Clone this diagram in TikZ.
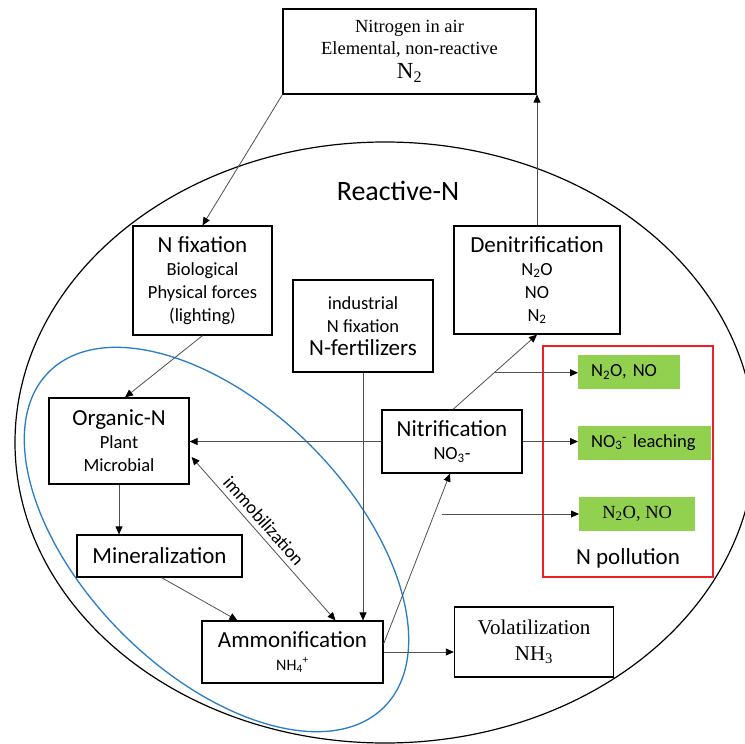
\documentclass[tikz,border=0pt]{standalone}
\usepackage{fontspec}
\setmainfont{Carlito}
\newfontfamily\tnr{Liberation Serif}
\usetikzlibrary{arrows.meta,calc}
\definecolor{gfill}{RGB}{146,208,80}
\definecolor{blueell}{RGB}{40,125,200}
\definecolor{redbox}{RGB}{236,32,38}
\definecolor{lngray}{RGB}{80,80,80}
\newcommand\hsz{\fontsize{23}{27}\selectfont}
\newcommand\ssz{\fontsize{18.5}{23}\selectfont}
\begin{document}
\begin{tikzpicture}[x=1pt,y=-1pt,
  box/.style={draw=black, line width=1.2pt, fill=white, rectangle, inner sep=0pt, align=center, font=\ssz},
  greenbox/.style={fill=gfill, rectangle, inner ysep=0pt, minimum height=34pt, font=\ssz},
  tip/.style={Triangle[length=8pt,width=7pt,color=black]},
  conn/.style={draw=lngray, line width=0.8pt, -{Triangle[length=8pt,width=7pt,color=black]}},
  dconn/.style={draw=lngray, line width=0.8pt, {Triangle[length=8pt,width=7pt,color=black]}-{Triangle[length=8pt,width=7pt,color=black]}}]
\useasboundingbox (0,0) rectangle (745,744);
\clip (0,0) rectangle (745,744);
\fill[white] (0,0) rectangle (745,744);
% big ellipse and blue ellipse
\draw[line width=1.2pt] (385,442.5) ellipse [x radius=370pt, y radius=300.5pt];
\draw[blueell, line width=1.3pt, rotate around={-45:(216.5,539.5)}] (216.5,539.5) ellipse [x radius=237pt, y radius=133pt];
% red box
\node[draw=redbox, line width=1.2pt, rectangle, minimum width=170pt, minimum height=231pt, inner sep=0pt] (red) at (628,461.5) {};
\node[font=\hsz, anchor=base] (npol) at (628,564) {N pollution};
% title
\node[font=\fontsize{28}{32}\selectfont, anchor=base] (react) at (398,200) {Reactive-N};
% boxes
\node[box, minimum width=253pt, minimum height=85pt, font=\tnr\fontsize{18.5}{22}\selectfont] (top) at (409.5,51.5)
  {Nitrogen in air\\Elemental, non-reactive\\[2pt]{\fontsize{23}{23}\selectfont N\textsubscript{2}}};
\node[box, minimum width=139pt, minimum height=109pt] (nfix) at (202.5,280.5)
  {{\hsz N fixation}\\Biological\\Physical forces\\(lighting)};
\node[box, minimum width=140pt, minimum height=92pt] (indus) at (363,326)
  {industrial\\N fixation\\{\hsz N-fertilizers}};
\node[box, minimum width=166pt, minimum height=108pt] (denit) at (537,280)
  {{\hsz Denitrification}\\N\textsubscript{2}O\\NO\\N\textsubscript{2}};
\node[box, minimum width=140pt, minimum height=86pt] (orgN) at (119,441)
  {{\hsz Organic-N}\\Plant\\Microbial};
\node[box, minimum width=140pt, minimum height=63pt] (nitr) at (452,441.5)
  {{\hsz Nitrification}\\NO\textsubscript{3}-};
\node[box, minimum width=165pt, minimum height=42pt] (miner) at (159.5,556)
  {{\hsz Mineralization}};
\node[box, minimum width=181pt, minimum height=62pt] (ammon) at (292.5,652)
  {{\hsz Ammonification}\\{\fontsize{16}{20}\selectfont NH\textsubscript{4}\textsuperscript{+}}};
\node[box, minimum width=159pt, minimum height=70pt, font=\tnr\fontsize{21}{26}\selectfont] (volat) at (534,642)
  {Volatilization\\NH\textsubscript{3}};
% green boxes
\node[greenbox, anchor=west, text width=76pt, inner xsep=13pt, align=left] (g1) at (578,372) {N\textsubscript{2}O, NO};
\node[greenbox, anchor=west, text width=107pt, inner xsep=13pt, align=left] (g2) at (578,442.5) {NO\textsubscript{3}\textsuperscript{-} leaching};
\node[greenbox, anchor=west, minimum width=116pt] (g3) at (579,513.5) {\tnr\fontsize{18.5}{22}\selectfont N\textsubscript{2}O, NO};
% connectors
\draw[conn] (top.south west) -- (nfix.north);
\draw[conn] (denit.north) -- (denit.north |- top.south);
\draw[conn] (nfix.south) -- ($(orgN.north)+(6,0)$);
\draw[conn] (orgN.south) -- (orgN.south |- miner.north);
\draw[conn] ($(miner.south)+(2,0)$) -- ($(ammon.north west)+(36,0)$);
\draw[dconn] ($(orgN.east)+(2,16)$) -- node[pos=0.44, sloped, above, font=\ssz, inner sep=5pt] (immo) {immobilization} ($(ammon.north)+(43,0)$);
\draw[conn] (indus.south) -- (indus.south |- ammon.north);
\draw[conn] ($(ammon.east)+(0,-8)$) -- ($(nitr.south)+(-2,0)$);
\draw[conn] (ammon.east) -- (ammon.east -| volat.west);
\draw[conn] ($(nitr.north)+(1,0)$) -- (denit.south);
\draw[conn] (nitr.west) -- (nitr.west -| orgN.east);
\draw[conn] (nitr.east) -- (nitr.east -| g2.west);
\coordinate (b1) at ($(nitr.north)!0.49!(denit.south)$);
\draw[conn] (b1) -- (b1 -| g1.west);
\coordinate (b3) at (442,514);
\draw[conn] (b3) -- (b3 -| g3.west);
\end{tikzpicture}
\end{document}
